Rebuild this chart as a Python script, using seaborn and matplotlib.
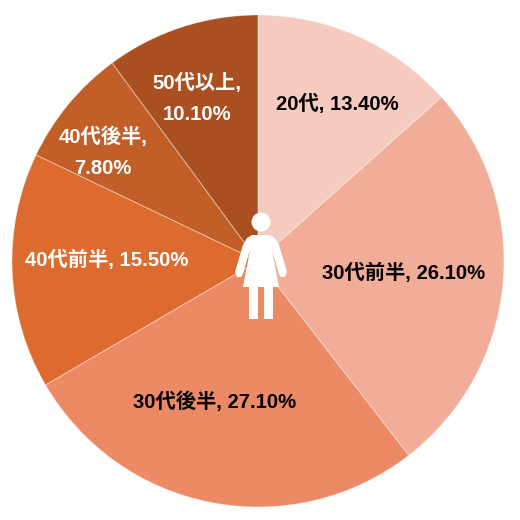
import matplotlib
matplotlib.use("Agg")
import matplotlib.pyplot as plt
from matplotlib.patches import Circle, Polygon, Rectangle
import seaborn as sns

sns.set_theme(style="white")
plt.rcParams['font.family'] = ['Liberation Sans', 'Noto Sans CJK JP', 'DejaVu Sans']

labels = ["20代", "30代前半", "30代後半", "40代前半", "40代後半", "50代以上"]
values = [13.4, 26.1, 27.1, 15.5, 7.8, 10.1]
colors = ["#F5CBBF", "#F1AD98", "#EC8A65", "#DD6A2E", "#C25E27", "#A94F20"]
text_colors = ["black", "black", "black", "white", "white", "white"]
label_xy = [(337, 104), (404, 273), (215, 402), (107, 260), (103, 152), (197, 98)]
texts = [f"{l}, {v:.2f}%" for l, v in zip(labels, values)]
texts[4] = "40代後半,\n7.80%"
texts[5] = "50代以上,\n10.10%"


def Y(y):
    return 520 - y


fig = plt.figure(figsize=(5.2, 5.2), dpi=100, facecolor="white")
ax = fig.add_axes([0, 0, 1, 1])
ax.pie(values, colors=colors, startangle=90, counterclock=False, center=(258, Y(261)), radius=246,
       frame=True, wedgeprops=dict(edgecolor=(1, 1, 1, 0.4), linewidth=0.7))
ax.set_xlim(0, 520)
ax.set_ylim(0, 520)
ax.set_aspect("equal")
ax.axis("off")
for t, c, (x, y) in zip(texts, text_colors, label_xy):
    ax.text(x, Y(y), t, color=c, ha="center", va="center", fontsize=14.6, fontweight="bold", linespacing=1.8)

# person icon
ax.add_patch(Circle((261, Y(222)), 9.5, fc="white", ec="none"))
body = [(252, 235), (270, 235), (275, 238), (279, 245), (287, 272), (285, 277), (281, 277), (279, 274),
        (272, 250), (279, 287), (243, 287), (250, 250), (243, 274), (241, 277), (237, 277), (235, 272),
        (243, 245), (247, 238)]
ax.add_patch(Polygon([(x, Y(y)) for x, y in body], fc="white", ec="none"))
ax.add_patch(Rectangle((249, Y(319)), 8.5, 33, fc="white", ec="none"))
ax.add_patch(Rectangle((264, Y(319)), 8.5, 33, fc="white", ec="none"))
fig.savefig("out.png", dpi=100)
